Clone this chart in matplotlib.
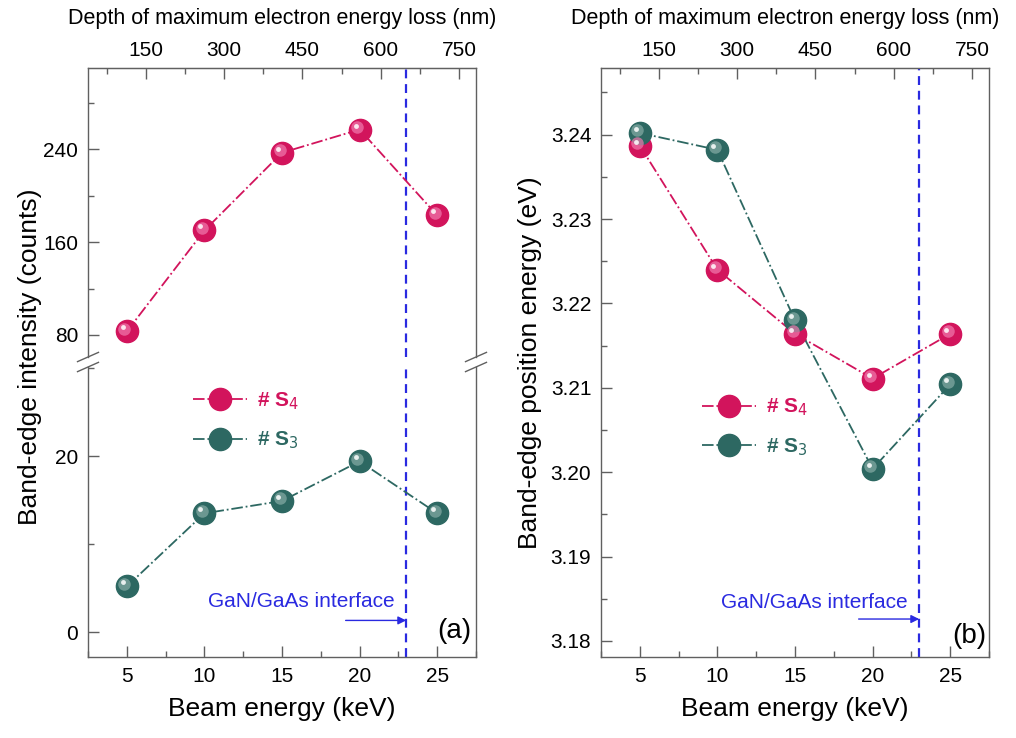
import matplotlib
matplotlib.use("Agg")
import matplotlib.pyplot as plt
from matplotlib.ticker import MultipleLocator, FixedLocator, FormatStrFormatter
from matplotlib.transforms import ScaledTranslation
from matplotlib.lines import Line2D

plt.rcParams['font.family'] = ['Liberation Sans', 'DejaVu Sans']

# beam energies (keV)
energy = [5, 10, 15, 20, 25]

# (a) band-edge intensity (counts)
int_s4 = [83, 170, 237, 257, 183]
int_s3 = [5.2, 13.5, 14.9, 19.4, 13.5]

# (b) band-edge position energy (eV)
pos_s4 = [3.2387, 3.2240, 3.2164, 3.2111, 3.2164]
pos_s3 = [3.2402, 3.2382, 3.2180, 3.2004, 3.2104]

# depth axis ticks (nm)
depth_major = [150, 300, 450, 600, 750]
depth_minor = [75, 225, 375, 525, 675]

interface_kev = 23.0

PINK = '#d2145c'
PINK_LT = '#f07aae'
TEAL = '#2d6862'
TEAL_LT = '#86aca6'
BLUE = '#2a2ae0'
SPINE = '#606060'


def to_depth(e):
    return 29.72 * e - 34.9


def to_energy(d):
    return (d + 34.9) / 29.72


def sphere(ax, x, y, c, c_lt):
    # dash-dot line plus shaded ball markers
    ax.plot(x, y, color=c, lw=1.3, ls='-.', zorder=2)
    fig = ax.figure
    ax.plot(x, y, ls='none', marker='o', ms=16, mfc=c, mec=c, zorder=3)
    off = ax.transData + ScaledTranslation(-0.025, 0.025, fig.dpi_scale_trans)
    ax.plot(x, y, ls='none', marker='o', ms=9, mfc=c_lt, mec='none',
            alpha=0.7, transform=off, zorder=4)
    off2 = ax.transData + ScaledTranslation(-0.04, 0.04, fig.dpi_scale_trans)
    ax.plot(x, y, ls='none', marker='o', ms=3.5, mfc='white', mec='none',
            alpha=0.85, transform=off2, zorder=5)


def style(ax):
    for s in ax.spines.values():
        s.set_color(SPINE)
        s.set_linewidth(1.0)
    ax.tick_params(which='both', direction='in', colors=SPINE, labelcolor='black',
                   labelsize=15, right=False, top=False, pad=7)
    ax.tick_params(which='major', length=8, width=1)
    ax.tick_params(which='minor', length=4, width=1)
    ax.set_xlim(2.5, 27.5)
    ax.xaxis.set_major_locator(MultipleLocator(5))
    ax.xaxis.set_minor_locator(MultipleLocator(2.5))


def depth_axis(ax, xlab=0.5):
    sec = ax.secondary_xaxis('top', functions=(to_depth, to_energy))
    sec.xaxis.set_major_locator(FixedLocator(depth_major))
    sec.xaxis.set_minor_locator(FixedLocator(depth_minor))
    sec.tick_params(which='both', direction='in', colors=SPINE, labelcolor='black',
                    labelsize=15, pad=6)
    sec.tick_params(which='major', length=8, width=1)
    sec.tick_params(which='minor', length=4, width=1)
    sec.spines['top'].set_color(SPINE)
    sec.set_xlabel('Depth of maximum electron energy loss (nm)', fontsize=15.5, labelpad=12)
    sec.xaxis.label.set_x(xlab)
    return sec


def interface(ax, y_txt=None, y_arr=None):
    ax.axvline(interface_kev, color=BLUE, lw=1.6, ls=(0, (4, 2.6)), zorder=1)
    if y_txt is None:
        return
    ax.text(interface_kev - 0.75, y_txt, 'GaN/GaAs interface', color=BLUE,
            fontsize=15, ha='right', va='center')
    ax.annotate('', xy=(interface_kev, y_arr), xytext=(19.1, y_arr),
                arrowprops=dict(arrowstyle='-|>', color=BLUE, lw=1.0,
                                mutation_scale=12, shrinkA=0, shrinkB=0))


def legend(ax, anchor):
    h = [Line2D([], [], color=PINK, ls='-.', lw=1.3, marker='o', ms=16, mfc=PINK, mec=PINK),
         Line2D([], [], color=TEAL, ls='-.', lw=1.3, marker='o', ms=16, mfc=TEAL, mec=TEAL)]
    lg = ax.legend(h, ['# S$_4$', '# S$_3$'], loc='center left', bbox_to_anchor=anchor,
                   frameon=False, fontsize=15, handlelength=2.6, handletextpad=0.5,
                   labelspacing=0.85, borderpad=0, borderaxespad=0)
    for t, c in zip(lg.get_texts(), [PINK, TEAL]):
        t.set_color(c)
        t.set_fontweight('bold')


fig = plt.figure(figsize=(10.16, 7.38), dpi=100)
W, H = 1016, 738


def frac(x0, y0, x1, y1):
    return [x0 / W, 1 - y1 / H, (x1 - x0) / W, (y1 - y0) / H]


# ---- panel (a): broken intensity axis ----
ax_hi = fig.add_axes(frac(88, 68, 476, 357))
ax_lo = fig.add_axes(frac(88, 367, 476, 657))

sphere(ax_hi, energy, int_s4, PINK, PINK_LT)
sphere(ax_lo, energy, int_s3, TEAL, TEAL_LT)

for a in (ax_hi, ax_lo):
    style(a)
ax_hi.set_ylim(61, 310)
ax_hi.yaxis.set_major_locator(MultipleLocator(80))
ax_hi.yaxis.set_minor_locator(MultipleLocator(40))
ax_hi.spines['bottom'].set_visible(False)
ax_hi.tick_params(which='both', bottom=False, labelbottom=False)

ax_lo.set_ylim(-2.8, 30.1)
ax_lo.yaxis.set_major_locator(MultipleLocator(20))
ax_lo.yaxis.set_minor_locator(MultipleLocator(10))
ax_lo.spines['top'].set_visible(False)

# break marks on both vertical spines
for xs in (0, 1):
    for a, yb in ((ax_hi, 0), (ax_lo, 1)):
        a.plot([xs - 0.027, xs + 0.027], [yb - 0.016, yb + 0.016], transform=a.transAxes,
               color=SPINE, lw=1.0, clip_on=False, zorder=6)

depth_axis(ax_hi)
interface(ax_hi)
interface(ax_lo, 3.5, 1.35)
ax_lo.text(26.1, 0.2, '(a)', fontsize=20, ha='center', va='center')
legend(ax_lo, (0.27, 0.814))

ax_lo.set_xlabel('Beam energy (keV)', fontsize=19, labelpad=8)
fig.text(30 / W, 1 - 357 / H, 'Band-edge intensity (counts)', fontsize=19,
         rotation=90, ha='center', va='center')

# ---- panel (b): band-edge position ----
ax_b = fig.add_axes(frac(601, 68, 989, 657))
sphere(ax_b, energy, pos_s4, PINK, PINK_LT)
sphere(ax_b, energy, pos_s3, TEAL, TEAL_LT)
style(ax_b)
ax_b.set_ylim(3.1781, 3.2479)
ax_b.yaxis.set_major_locator(MultipleLocator(0.01))
ax_b.yaxis.set_minor_locator(MultipleLocator(0.005))
ax_b.yaxis.set_major_formatter(FormatStrFormatter('%.2f'))
depth_axis(ax_b, xlab=0.475)
interface(ax_b, 3.1846, 3.1826)
ax_b.text(26.2, 3.1806, '(b)', fontsize=20, ha='center', va='center')
legend(ax_b, (0.26, 0.39))
ax_b.set_xlabel('Beam energy (keV)', fontsize=19, labelpad=8)
ax_b.set_ylabel('Band-edge position energy (eV)', fontsize=19, labelpad=6)

fig.savefig('out.png', dpi=100)
